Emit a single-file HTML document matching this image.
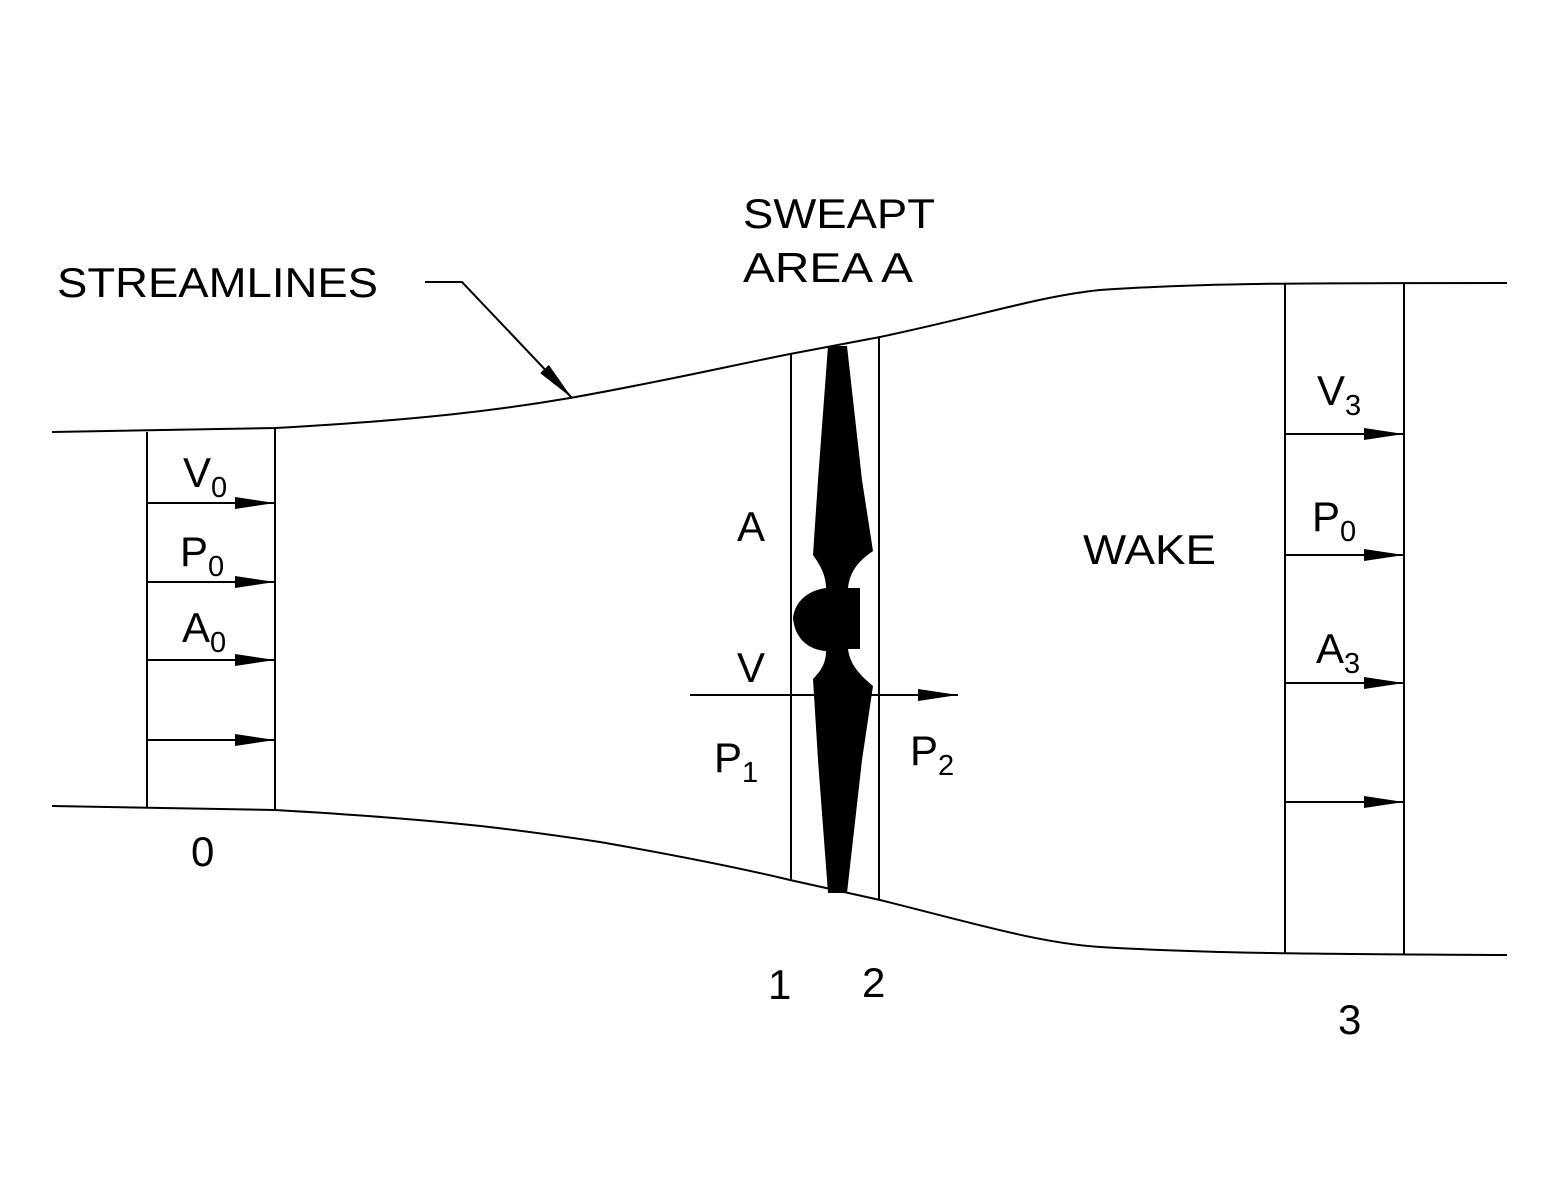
<!DOCTYPE html>
<html><head><meta charset="utf-8"><style>
html,body{margin:0;padding:0;background:#fff;}
svg{display:block;}
text{font-family:"Liberation Sans",Arial,sans-serif;fill:#000;font-size:42px;}
.sub{font-size:29px;}
</style></head><body>
<svg width="1553" height="1200" viewBox="0 0 1553 1200">
<defs><marker id="ah" markerWidth="40" markerHeight="12" refX="40" refY="6" orient="auto" markerUnits="userSpaceOnUse"><path d="M0,0 L40,6 L0,12 Z" fill="#000"/></marker></defs>
<g fill="none" stroke="#000" stroke-width="2">
<path d="M52,432 L275,428 C420,420 500,410 570,398 C660,382 720,368 790,354 L880,337 C980,316 1040,296 1100,290 C1200,283 1300,283 1507,283"/>
<path d="M52,806 L275,810 C450,820 520,830 600,842 C680,856 740,868 790,880 L880,900 C980,925 1040,943 1100,947 C1200,953 1300,954 1507,955"/>
<line x1="147" y1="432" x2="147" y2="807"/>
<line x1="275" y1="428" x2="275" y2="810"/>
<line x1="791" y1="354" x2="791" y2="880"/>
<line x1="879" y1="337" x2="879" y2="900"/>
<line x1="1285" y1="283" x2="1285" y2="954"/>
<line x1="1404" y1="283" x2="1404" y2="955"/>
<g marker-end="url(#ah)">
<line x1="147" y1="503" x2="275" y2="503"/>
<line x1="147" y1="582" x2="275" y2="582"/>
<line x1="147" y1="660" x2="275" y2="660"/>
<line x1="147" y1="740" x2="275" y2="740"/>
<line x1="1285" y1="434" x2="1404" y2="434"/>
<line x1="1285" y1="555" x2="1404" y2="555"/>
<line x1="1285" y1="683" x2="1404" y2="683"/>
<line x1="1285" y1="802" x2="1404" y2="802"/>
<line x1="690" y1="695" x2="958" y2="695"/>
<polyline points="425,282 462,282 572,398"/>
</g>
</g>
<path fill="#000" d="M828,346 L847,346 L862,480 L873,551 C860,560 850,570 848,588 L860,588 L860,649 L848,649 C850,665 860,675 873,686 L862,760 L847,893 L828,893 L818,760 L813,679 C822,670 826,662 826,651 C810,650 795,640 793,618 C795,600 810,590 826,588 C826,575 820,565 813,555 L818,480 Z"/>
<text x="57" y="297" textLength="321" lengthAdjust="spacingAndGlyphs">STREAMLINES</text>
<text x="743" y="228" textLength="192" lengthAdjust="spacingAndGlyphs">SWEAPT</text>
<text x="743" y="282" textLength="170" lengthAdjust="spacingAndGlyphs">AREA A</text>
<text x="183" y="487">V<tspan class="sub" dy="10">0</tspan></text>
<text x="180" y="566">P<tspan class="sub" dy="10">0</tspan></text>
<text x="182" y="642">A<tspan class="sub" dy="10">0</tspan></text>
<text x="191" y="866">0</text>
<text x="737" y="541">A</text>
<text x="737" y="682">V</text>
<text x="714" y="772">P<tspan class="sub" dy="10">1</tspan></text>
<text x="910" y="765">P<tspan class="sub" dy="10">2</tspan></text>
<text x="768" y="999">1</text>
<text x="862" y="997">2</text>
<text x="1083" y="564" textLength="133" lengthAdjust="spacingAndGlyphs">WAKE</text>
<text x="1317" y="405">V<tspan class="sub" dy="10">3</tspan></text>
<text x="1312" y="531">P<tspan class="sub" dy="10">0</tspan></text>
<text x="1316" y="663">A<tspan class="sub" dy="10">3</tspan></text>
<text x="1338" y="1034">3</text>
</svg>
</body></html>
